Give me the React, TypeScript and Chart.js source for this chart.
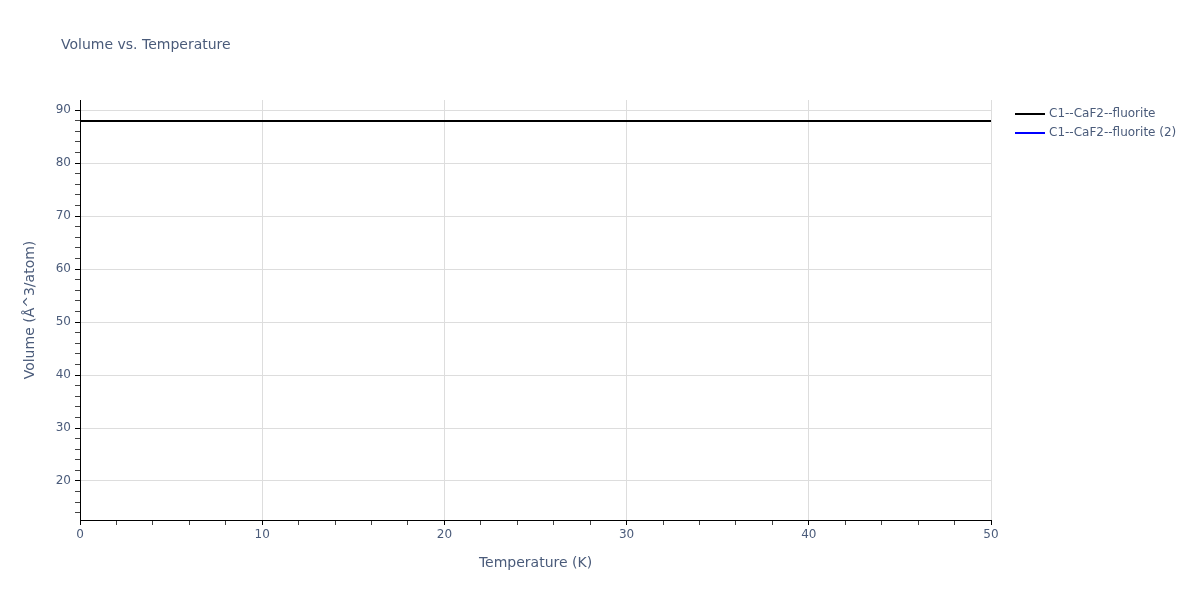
import React, { useEffect, useRef } from "react";
import { Chart, registerables, ChartConfiguration, Plugin } from "chart.js";

Chart.register(...registerables);

// values
const temperatures = [0, 10, 20, 30, 40, 50];
const volumeMain = [87.93, 87.93, 87.93, 87.93, 87.93, 87.93];
const volumeSecond = [87.93, 87.93, 87.93, 87.93, 87.93, 87.93];
const seriesNames = ["C1--CaF2--fluorite", "C1--CaF2--fluorite (2)"];
const seriesColors = ["#000000", "#0000ff"];
const xMajorTicks = [0, 10, 20, 30, 40, 50];
const yMajorTicks = [20, 30, 40, 50, 60, 70, 80, 90];

const textColor = "#4a5b7a";
const fontFamily = '"DejaVu Sans", Verdana, sans-serif';

// title + legend drawn at fixed spots like the plotly layout
const overlay: Plugin<"scatter"> = {
  id: "overlay",
  afterDraw(chart) {
    const ctx = chart.ctx;
    ctx.save();
    ctx.fillStyle = textColor;
    ctx.textBaseline = "middle";
    ctx.font = `14px ${fontFamily}`;
    ctx.fillText("Volume vs. Temperature", 61, 45);

    ctx.font = `12px ${fontFamily}`;
    seriesNames.forEach((name, i) => {
      const y = 114 + i * 19;
      ctx.strokeStyle = seriesColors[i];
      ctx.lineWidth = 2;
      ctx.beginPath();
      ctx.moveTo(1015, y);
      ctx.lineTo(1045, y);
      ctx.stroke();
      ctx.fillStyle = textColor;
      ctx.fillText(name, 1049, y);
    });
    ctx.restore();
  },
};

const minorTicks = (from: number, to: number) => {
  const out: { value: number }[] = [];
  for (let v = from; v <= to; v += 2) out.push({ value: v });
  return out;
};

const App = () => {
  const chartRef = useRef<HTMLCanvasElement | null>(null);
  const chartInstanceRef = useRef<Chart<"scatter"> | null>(null);

  useEffect(() => {
    document.body.style.margin = "0";
    const ctx = chartRef.current?.getContext("2d");

    if (chartInstanceRef.current) {
      chartInstanceRef.current.destroy();
    }

    if (ctx) {
      const config: ChartConfiguration<"scatter"> = {
        type: "scatter",
        data: {
          datasets: [
            {
              label: seriesNames[1],
              data: temperatures.map((t, i) => ({ x: t, y: volumeSecond[i] })),
              showLine: true,
              borderColor: seriesColors[1],
              borderWidth: 2,
              pointRadius: 0,
              order: 2,
            },
            {
              label: seriesNames[0],
              data: temperatures.map((t, i) => ({ x: t, y: volumeMain[i] })),
              showLine: true,
              borderColor: seriesColors[0],
              borderWidth: 2,
              pointRadius: 0,
              order: 1,
            },
          ],
        },
        options: {
          animation: false,
          responsive: true,
          maintainAspectRatio: false,
          layout: { padding: { top: 100, right: 209, left: 0, bottom: 0 } },
          plugins: {
            legend: { display: false },
            title: { display: false },
            tooltip: { enabled: false },
          },
          scales: {
            x: {
              type: "linear",
              min: 0,
              max: 50,
              afterBuildTicks: (scale) => {
                scale.ticks = minorTicks(0, 50);
              },
              afterFit: (scale) => {
                scale.height = 80;
              },
              border: { display: true, color: "#000", width: 1 },
              grid: {
                color: (c) =>
                  xMajorTicks.includes(c.tick.value) ? "#dddddd" : "rgba(0,0,0,0)",
                tickColor: (c) =>
                  xMajorTicks.includes(c.tick.value) ? "#000" : "#444",
                tickLength: 5,
              },
              ticks: {
                autoSkip: false,
                maxRotation: 0,
                padding: 3,
                color: textColor,
                font: { family: fontFamily, size: 12 },
                callback: (v) => (xMajorTicks.includes(Number(v)) ? String(v) : ""),
              },
              title: {
                display: true,
                text: "Temperature (K)",
                color: textColor,
                font: { family: fontFamily, size: 14 },
                padding: { top: 0, bottom: 28 },
              },
            },
            y: {
              type: "linear",
              min: 12.64,
              max: 91.9,
              afterBuildTicks: (scale) => {
                scale.ticks = minorTicks(14, 90);
              },
              afterFit: (scale) => {
                scale.width = 80;
              },
              border: { display: true, color: "#000", width: 1 },
              grid: {
                color: (c) =>
                  yMajorTicks.includes(c.tick.value) ? "#dddddd" : "rgba(0,0,0,0)",
                tickColor: (c) =>
                  yMajorTicks.includes(c.tick.value) ? "#000" : "#444",
                tickLength: 5,
              },
              ticks: {
                autoSkip: false,
                padding: 4,
                color: textColor,
                font: { family: fontFamily, size: 12 },
                callback: (v) => (yMajorTicks.includes(Number(v)) ? String(v) : ""),
              },
              title: {
                display: true,
                text: "Volume (Å^3/atom)",
                color: textColor,
                font: { family: fontFamily, size: 14 },
                padding: { top: 22, bottom: 0 },
              },
            },
          },
        },
        plugins: [overlay],
      };

      chartInstanceRef.current = new Chart(ctx, config);
    }

    return () => {
      if (chartInstanceRef.current) {
        chartInstanceRef.current.destroy();
      }
    };
  }, []);

  return (
    <div style={{ width: 1200, height: 600, position: "relative" }}>
      <canvas ref={chartRef} />
    </div>
  );
};

export default App;
